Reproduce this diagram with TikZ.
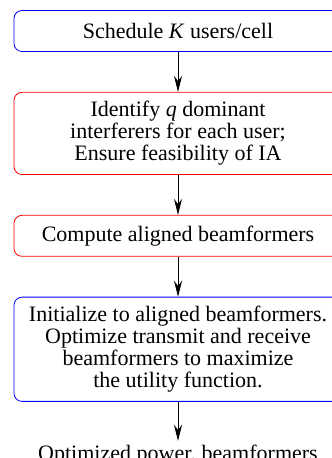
\documentclass[tikz,border=0pt]{standalone}
\usepackage{fontspec}
\setmainfont{Liberation Serif}
\usepackage{tikz}
\usetikzlibrary{positioning}
\usetikzlibrary{arrows.meta}

\begin{document}
\begin{tikzpicture}[node distance=20pt,
	every node/.style={font=\fontsize{11}{11}\selectfont},
	stepbox/.style={draw,rounded corners=4pt,minimum width=164pt,minimum height=20.5pt,align=center,inner xsep=5pt,inner ysep=4.5pt},
	bluebox/.style={stepbox,draw=blue},
	redbox/.style={stepbox,draw=red}]
	\useasboundingbox (0,0) rectangle (165.5pt,-229pt);
	\node (sched) [bluebox] at (89pt,-15.5pt) {Schedule \textit{K} users/cell};
	\node (ident) [redbox,below=of sched] {Identify \textit{q} dominant\\interferers for each user;\\Ensure feasibility of IA};
	\node (align) [redbox,below=of ident] {Compute aligned beamformers};
	\node (optim) [bluebox,below=of align] {Initialize to aligned beamformers.\\Optimize transmit and receive\\beamformers to maximize\\the utility function.};
	\node (out) [inner sep=2pt,below=19.5pt of optim] {Optimized power, beamformers};
	\path[-{Stealth[length=8pt,width=4pt]}]
		(sched) edge (ident)
		(ident) edge (align)
		(align) edge (optim)
		(optim) edge (out);
\end{tikzpicture}
\end{document}
